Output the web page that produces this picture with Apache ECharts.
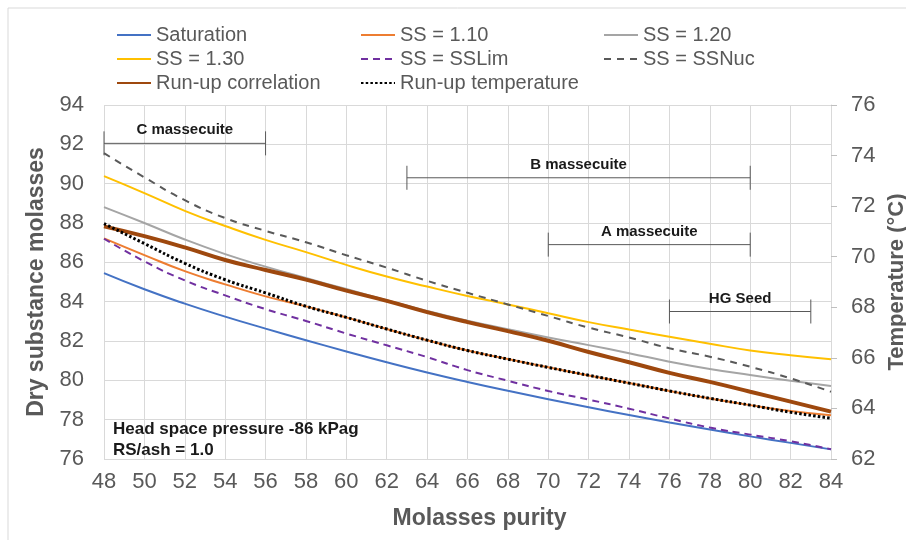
<!DOCTYPE html>
<html>
<head>
<meta charset="utf-8">
<script src="https://cdn.jsdelivr.net/npm/echarts@6/dist/echarts.min.js"></script>
<style>
  html, body { margin: 0; padding: 0; background: #fff; }
  #chart { width: 906px; height: 540px; }
</style>
</head>
<body>
<div id="chart"></div>
<script>
const FONT = '"Liberation Sans", Arial, sans-serif'
const GREY_TEXT = '#595959'
const GRID = '#d9d9d9'

// molasses purity (x)
const purity = [48, 50, 52, 54, 56, 58, 60, 62, 64, 66, 68, 70, 72, 74, 76, 78, 80, 82, 84]

// dry substance molasses (left axis)
const saturation = [85.45, 84.63, 83.90, 83.24, 82.63, 82.04, 81.47, 80.92, 80.40, 79.92, 79.47, 79.04, 78.63, 78.24, 77.86, 77.50, 77.15, 76.82, 76.49]
const ss110 = [87.22, 86.37, 85.55, 84.88, 84.27, 83.76, 83.20, 82.61, 82.04, 81.52, 81.08, 80.66, 80.25, 79.86, 79.46, 79.08, 78.74, 78.44, 78.22]
const ss120 = [88.81, 88.00, 87.16, 86.42, 85.78, 85.20, 84.64, 84.08, 83.53, 83.03, 82.60, 82.18, 81.79, 81.38, 80.95, 80.58, 80.27, 79.98, 79.71]
const ss130 = [90.38, 89.52, 88.62, 87.85, 87.14, 86.52, 85.87, 85.28, 84.77, 84.29, 83.86, 83.41, 82.96, 82.58, 82.22, 81.86, 81.52, 81.28, 81.07]
const ssLim = [87.20, 86.05, 85.08, 84.32, 83.62, 83.02, 82.38, 81.78, 81.18, 80.52, 79.98, 79.46, 79.02, 78.56, 78.06, 77.60, 77.24, 76.90, 76.50]
const ssNuc = [91.55, 90.32, 89.16, 88.25, 87.60, 87.02, 86.36, 85.73, 85.06, 84.45, 83.86, 83.27, 82.68, 82.18, 81.63, 81.20, 80.69, 80.10, 79.42]
const runUpCorr = [87.83, 87.33, 86.76, 86.12, 85.61, 85.12, 84.56, 84.04, 83.47, 82.96, 82.50, 82.01, 81.44, 80.92, 80.38, 79.92, 79.42, 78.92, 78.41]

// temperature, degC (right axis)
const runUpTemp = [71.31, 70.52, 69.74, 69.09, 68.57, 68.04, 67.60, 67.14, 66.70, 66.29, 65.95, 65.62, 65.31, 65.00, 64.69, 64.40, 64.13, 63.85, 63.61]

// massecuite purity ranges
const rangeNames = ['C massecuite', 'B massecuite', 'A massecuite', 'HG Seed']
const rangeFrom = [48, 63, 70, 76]
const rangeTo = [56, 80, 80, 83]
const rangeLevel = [92.05, 90.3, 86.9, 83.5]

const pairs = ys => purity.map((x, i) => [x, ys[i]])

function curve(name, ys, color, width, dash, axis) {
  return {
    name, type: 'line', data: pairs(ys), yAxisIndex: axis || 0,
    symbol: 'none', smooth: true,
    itemStyle: { color },
    lineStyle: { color, width, type: dash || 'solid', cap: 'butt' },
    emphasis: { disabled: true }
  }
}

const legendBase = {
  orient: 'vertical', top: 20, itemGap: 4, itemWidth: 34, itemHeight: 14,
  selectedMode: false,
  itemStyle: { opacity: 0 },
  textStyle: { fontSize: 20, color: GREY_TEXT, fontFamily: FONT, lineHeight: 20 }
}

const chart = echarts.init(document.getElementById('chart'))
chart.setOption({
  animation: false,
  textStyle: { fontFamily: FONT },
  grid: { left: 104, right: 75, top: 105, bottom: 81, outerBoundsMode: 'none' },
  legend: [
    { ...legendBase, left: 111, data: ['Saturation', 'SS = 1.30', 'Run-up correlation'] },
    { ...legendBase, left: 355, data: ['SS = 1.10', 'SS = SSLim', 'Run-up temperature'] },
    { ...legendBase, left: 598, data: ['SS = 1.20', 'SS = SSNuc'] }
  ],
  xAxis: {
    type: 'value', min: 48, max: 84, interval: 2,
    name: 'Molasses purity', nameLocation: 'middle', nameGap: 48,
    nameTextStyle: { fontSize: 23, fontWeight: 'bold', color: GREY_TEXT, padding: [0, 0, 0, 24] },
    axisLine: { show: false }, axisTick: { show: false },
    axisLabel: { fontSize: 22, color: GREY_TEXT, margin: 12 },
    splitLine: { show: true, lineStyle: { color: GRID, width: 1 } }
  },
  yAxis: [
    {
      type: 'value', min: 76, max: 94, interval: 2,
      name: 'Dry substance molasses', nameLocation: 'middle', nameGap: 56,
      nameTextStyle: { fontSize: 23, fontWeight: 'bold', color: GREY_TEXT },
      axisLine: { show: false }, axisTick: { show: false },
      axisLabel: { fontSize: 22, color: GREY_TEXT, margin: 20 },
      splitLine: { lineStyle: { color: GRID, width: 1 } }
    },
    {
      type: 'value', position: 'right', min: 62, max: 76, interval: 2,
      name: 'Temperature (°C)', nameLocation: 'middle', nameGap: 55,
      nameTextStyle: { fontSize: 22, fontWeight: 'bold', color: GREY_TEXT },
      axisLine: { show: true, lineStyle: { color: GRID } },
      axisTick: { show: true, length: 6, lineStyle: { color: '#bfbfbf' } },
      axisLabel: { fontSize: 22, color: GREY_TEXT, margin: 20 },
      splitLine: { show: false }
    }
  ],
  series: [
    curve('Saturation', saturation, '#4472C4', 2),
    curve('SS = 1.10', ss110, '#ED7D31', 2),
    curve('SS = 1.20', ss120, '#A5A5A5', 2),
    curve('SS = 1.30', ss130, '#FFC000', 2),
    curve('SS = SSLim', ssLim, '#7030A0', 2, [7, 5]),
    curve('SS = SSNuc', ssNuc, '#595959', 2, [7, 6]),
    curve('Run-up correlation', runUpCorr, '#9E480E', 4),
    curve('Run-up temperature', runUpTemp, '#000000', 3, [2.5, 2.2], 1),
    {
      type: 'custom', silent: true, z: 5,
      data: rangeNames.map((n, i) => [rangeFrom[i], rangeTo[i], rangeLevel[i]]),
      encode: { x: [0, 1], y: 2 },
      renderItem(params, api) {
        const a = api.coord([api.value(0), api.value(2)])
        const b = api.coord([api.value(1), api.value(2)])
        const st = { stroke: '#595959', lineWidth: 1 }
        const cap = 12
        return {
          type: 'group',
          children: [
            { type: 'line', shape: { x1: a[0], y1: a[1], x2: b[0], y2: b[1] }, style: st },
            { type: 'line', shape: { x1: a[0], y1: a[1] - cap, x2: a[0], y2: a[1] + cap }, style: st },
            { type: 'line', shape: { x1: b[0], y1: b[1] - cap, x2: b[0], y2: b[1] + cap }, style: st },
            {
              type: 'text', x: (a[0] + b[0]) / 2, y: a[1] - 13,
              style: {
                text: rangeNames[params.dataIndex], fill: '#1a1a1a',
                font: 'bold 15px ' + FONT, align: 'center', verticalAlign: 'middle'
              }
            }
          ]
        }
      }
    }
  ],
  graphic: [
    {
      type: 'rect', z: -10, silent: true,
      shape: { x: 8, y: 8, width: 1000, height: 1000 },
      style: { fill: 'none', stroke: GRID, lineWidth: 1 }
    },
    {
      type: 'text', left: 113, top: 421, z: 10,
      style: { text: 'Head space pressure -86 kPag', font: 'bold 17px ' + FONT, fill: '#1a1a1a' }
    },
    {
      type: 'text', left: 113, top: 442, z: 10,
      style: { text: 'RS/ash = 1.0', font: 'bold 17px ' + FONT, fill: '#1a1a1a' }
    }
  ]
})
</script>
</body>
</html>
